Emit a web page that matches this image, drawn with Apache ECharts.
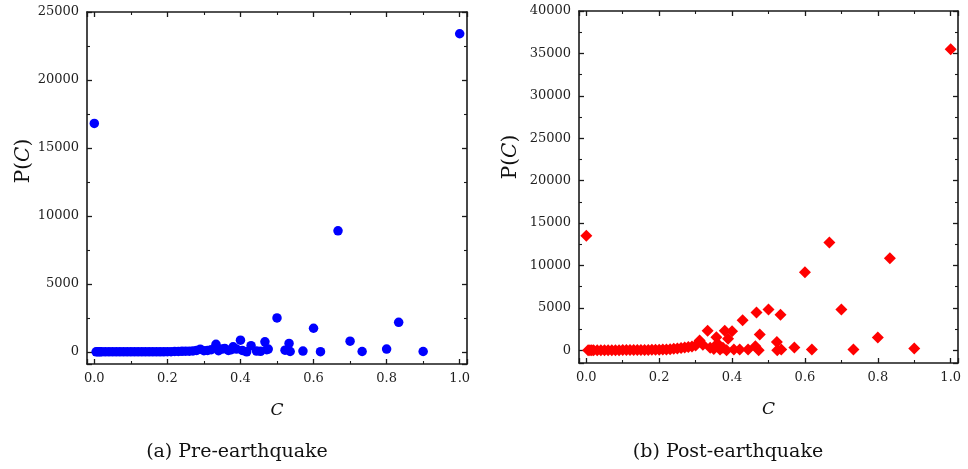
<!DOCTYPE html>
<html><head><meta charset="utf-8">
<script src="https://cdn.jsdelivr.net/npm/echarts@6/dist/echarts.min.js"></script>
<style>html,body{margin:0;padding:0;background:#fff}#c{width:968px;height:469px}</style>
</head><body><div id="c"></div>
<script>
// ---- data ----
const preC = [0, 0.005, 0.01, 0.015, 0.02, 0.03, 0.04, 0.05, 0.06, 0.07, 0.08, 0.09, 0.1, 0.11, 0.12, 0.13, 0.14, 0.15, 0.16, 0.17, 0.18, 0.19, 0.2, 0.21, 0.22, 0.23, 0.24, 0.25, 0.26, 0.27, 0.28, 0.29, 0.3, 0.31, 0.32, 0.333, 0.34, 0.35, 0.357, 0.367, 0.375, 0.38, 0.389, 0.4, 0.405, 0.417, 0.429, 0.444, 0.455, 0.467, 0.472, 0.476, 0.5, 0.522, 0.533, 0.536, 0.571, 0.6, 0.619, 0.667, 0.7, 0.733, 0.8, 0.833, 0.9, 1.0];
const preP = [16800, 0, 0, 0, 0, 0, 0, 0, 0, 0, 0, 0, 0, 0, 0, 0, 0, 0, 0, 0, 0, 0, 10, 10, 20, 20, 30, 40, 40, 60, 100, 190, 80, 100, 150, 550, 80, 200, 245, 100, 150, 365, 200, 850, 100, 0, 450, 50, 30, 730, 150, 200, 2490, 120, 610, 20, 50, 1730, 10, 8900, 780, 20, 200, 2170, 20, 23400];

const postC = [0, 0.005, 0.01, 0.015, 0.02, 0.03, 0.04, 0.05, 0.06, 0.07, 0.08, 0.09, 0.1, 0.11, 0.12, 0.13, 0.14, 0.15, 0.16, 0.17, 0.18, 0.19, 0.2, 0.21, 0.22, 0.23, 0.24, 0.25, 0.26, 0.27, 0.28, 0.29, 0.3, 0.311, 0.32, 0.333, 0.34, 0.35, 0.357, 0.36, 0.367, 0.375, 0.38, 0.385, 0.389, 0.4, 0.405, 0.421, 0.429, 0.444, 0.464, 0.467, 0.473, 0.476, 0.5, 0.523, 0.524, 0.533, 0.535, 0.571, 0.6, 0.619, 0.667, 0.7, 0.733, 0.8, 0.833, 0.9, 1.0];
const postP = [13500, 0, 0, 0, 0, 0, 0, 0, 0, 10, 10, 10, 20, 20, 20, 30, 30, 30, 40, 40, 50, 50, 60, 80, 100, 130, 170, 200, 260, 320, 380, 450, 550, 1150, 650, 2300, 300, 150, 1550, 800, 100, 300, 2300, 0, 1350, 2250, 100, 80, 3550, 80, 470, 4450, 0, 1850, 4800, 980, 0, 4200, 80, 320, 9200, 80, 12700, 4800, 100, 1500, 10850, 200, 35500];

const xTickLabels = [0, 0.2, 0.4, 0.6, 0.8, 1.0];
const yTickLabelsPre = [0, 5000, 10000, 15000, 20000, 25000];
const yTickLabelsPost = [0, 5000, 10000, 15000, 20000, 25000, 30000, 35000, 40000];
const captions = ['(a) Pre-earthquake', '(b) Post-earthquake'];

// ---- styling helpers ----
const FONT = 'DejaVu Serif';
const AX = '#1a1a1a';
const LBL = '#1f1f1f';
function near(list, v) { return list.some(t => Math.abs(t - v) < 1e-6); }

function xAxes(gi) {
  const common = {
    type: 'value', gridIndex: gi, min: -0.02, max: 1.02, splitNumber: 5,
    axisLine: { show: true, onZero: false, lineStyle: { color: AX, width: 1.6 } },
    axisTick: { show: true, inside: true, length: 5, lineStyle: { color: AX, width: 1.3 } },
    minorTick: { show: true, splitNumber: 2, length: 3, lineStyle: { color: AX, width: 1.1 } },
    splitLine: { show: false }
  };
  return [
    Object.assign({}, common, {
      position: 'bottom',
      axisLabel: { show: true, margin: 8, fontFamily: FONT, fontSize: 13, color: LBL,
        formatter: v => near(xTickLabels, v) ? v.toFixed(1) : '' },
      name: 'C', nameLocation: 'middle', nameGap: 38,
      nameTextStyle: { fontFamily: FONT, fontStyle: 'italic', fontSize: 17, color: '#111' }
    }),
    Object.assign({}, common, { position: 'top', axisLabel: { show: false } })
  ];
}

function yAxes(gi, min, max, split, labels, gap, shift) {
  const common = {
    type: 'value', gridIndex: gi, min: min, max: max, splitNumber: split,
    axisLine: { show: true, onZero: false, lineStyle: { color: AX, width: 1.6 } },
    axisTick: { show: true, inside: true, length: 5, lineStyle: { color: AX, width: 1.3 } },
    minorTick: { show: true, splitNumber: 2, length: 3, lineStyle: { color: AX, width: 1.1 } },
    splitLine: { show: false }
  };
  return [
    Object.assign({}, common, {
      position: 'left',
      axisLabel: { show: true, margin: 8, fontFamily: FONT, fontSize: 13, color: LBL,
        formatter: v => near(labels, v) ? String(v) : '' },
      name: '{n|P(}{i|C}{n|)}', nameLocation: 'middle', nameGap: gap,
      nameTextStyle: {
        color: '#111', padding: [0, 0, 0, shift],
        rich: {
          n: { fontFamily: FONT, fontSize: 20, color: '#111' },
          i: { fontFamily: FONT, fontStyle: 'italic', fontSize: 20, color: '#111' }
        }
      }
    }),
    Object.assign({}, common, { position: 'right', axisLabel: { show: false } })
  ];
}

const chart = echarts.init(document.getElementById('c'), null, { renderer: 'canvas' });
chart.setOption({
  animation: false,
  backgroundColor: '#fff',
  grid: [
    { left: 87, top: 12, width: 380, height: 352 },
    { left: 579, top: 11, width: 379, height: 352 }
  ],
  xAxis: [].concat(xAxes(0), xAxes(1)),
  yAxis: [].concat(
    yAxes(0, -900, 25000, 5, yTickLabelsPre, 52, 54),
    yAxes(1, -1500, 40000, 8, yTickLabelsPost, 58, 60)
  ),
  series: [
    {
      type: 'scatter', xAxisIndex: 0, yAxisIndex: 0,
      symbol: 'circle', symbolSize: 9.5,
      itemStyle: { color: '#0000ff', opacity: 1 },
      data: preC.map((c, i) => [c, preP[i]])
    },
    {
      type: 'scatter', xAxisIndex: 2, yAxisIndex: 2,
      symbol: 'diamond', symbolSize: 12,
      itemStyle: { color: '#ff0000', opacity: 1 },
      data: postC.map((c, i) => [c, postP[i]])
    }
  ],
  graphic: [
    { type: 'text', x: 237, y: 452, style: { text: captions[0], font: '19px "DejaVu Serif"', fill: '#111', align: 'center', verticalAlign: 'middle' } },
    { type: 'text', x: 728, y: 452, style: { text: captions[1], font: '19px "DejaVu Serif"', fill: '#111', align: 'center', verticalAlign: 'middle' } }
  ]
});
</script>
</body></html>
